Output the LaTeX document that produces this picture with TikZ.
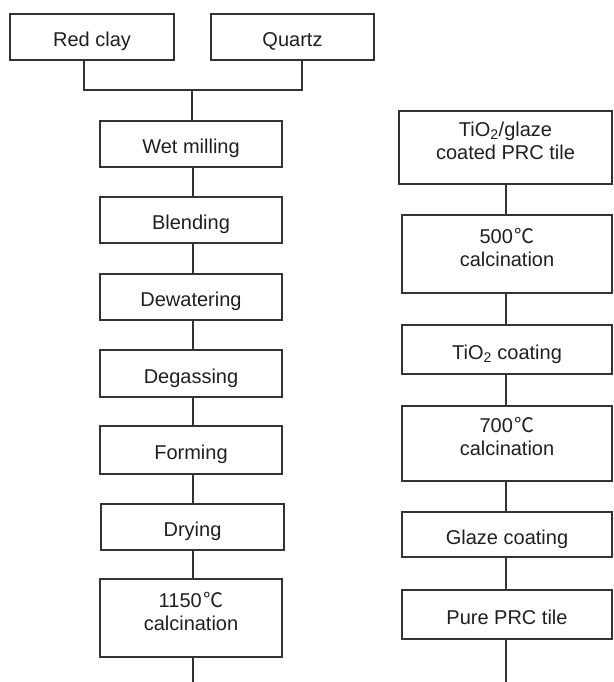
\documentclass[tikz,border=0pt]{standalone}
\usepackage{fontspec}
\setmainfont{Liberation Sans}
\newfontfamily\cjk{Noto Sans CJK SC}
\newcommand{\degC}{\hspace{1.5pt}{\cjk ℃}}
\newcommand{\lift}{\rule[-14pt]{0pt}{14pt}}
\begin{document}
\begin{tikzpicture}[x=1pt,y=-1pt,
  every node/.style={font=\fontsize{20}{23}\selectfont, text=black!88},
  procbox/.style={draw=black!80, line width=1.1pt, inner sep=0pt, align=center, minimum width=#1},
  procbox/.default=182pt,
  single/.style={text height=20pt, text depth=1pt},
  conn/.style={draw=black!80, line width=1.1pt}]
\useasboundingbox (0,0) rectangle (613,682);
% left column
\node[procbox=164pt, single, minimum height=46pt] (redclay) at (92,37) {Red clay};
\node[procbox=163pt, single, minimum height=46pt] (quartz) at (292.5,37) {Quartz};
\node[procbox, single, minimum height=46pt] (wet) at (191,144) {Wet milling};
\node[procbox, single, minimum height=46pt] (blend) at (191,220) {Blending};
\node[procbox, single, minimum height=46pt] (dewater) at (191,297) {Dewatering};
\node[procbox, single, minimum height=47pt] (degas) at (191,373.5) {Degassing};
\node[procbox, single, minimum height=48pt] (forming) at (191,450) {Forming};
\node[procbox=183pt, single, minimum height=46pt] (drying) at (192.5,527) {Drying};
\node[procbox, minimum height=78pt] (c1150) at (191,618) {1150\degC\\calcination\lift};
\coordinate (join) at (192,90);
\coordinate (lend) at (193,682);
\draw[conn] ([xshift=-8pt]redclay.south) |- (join);
\draw[conn] ([xshift=9.5pt]quartz.south) |- (join);
\draw[conn] (join) -- (join |- wet.north);
\draw[conn] (wet.south -| 193,0) -- (blend.north -| 193,0);
\draw[conn] (blend.south -| 193,0) -- (dewater.north -| 193,0);
\draw[conn] (dewater.south -| 193,0) -- (degas.north -| 193,0);
\draw[conn] (degas.south -| 193,0) -- (forming.north -| 193,0);
\draw[conn] (forming.south -| 193,0) -- (drying.north -| 193,0);
\draw[conn] (drying.south -| 193,0) -- (c1150.north -| 193,0);
\draw[conn] (c1150.south -| 193,0) -- (lend);
% right column
\node[procbox=213pt, minimum height=73pt] (tiog) at (505.5,147.5) {TiO\textsubscript{2}/glaze\\coated PRC tile\lift};
\node[procbox=210pt, minimum height=78pt] (c500) at (507,254) {500\degC\\calcination\lift};
\node[procbox=210pt, single, minimum height=49pt] (tioc) at (507,349.5) {TiO\textsubscript{2} coating};
\node[procbox=210pt, minimum height=75pt] (c700) at (507,443.5) {700\degC\\calcination\lift};
\node[procbox=210pt, single, minimum height=45pt] (glaze) at (507,534.5) {Glaze coating};
\node[procbox=210pt, single, minimum height=49pt] (pure) at (507,614.5) {Pure PRC tile};
\coordinate (rend) at (506,682);
\draw[conn] (tiog.south -| 506,0) -- (c500.north -| 506,0);
\draw[conn] (c500.south -| 506,0) -- (tioc.north -| 506,0);
\draw[conn] (tioc.south -| 506,0) -- (c700.north -| 506,0);
\draw[conn] (c700.south -| 506,0) -- (glaze.north -| 506,0);
\draw[conn] (glaze.south -| 506,0) -- (pure.north -| 506,0);
\draw[conn] (pure.south -| 506,0) -- (rend);
\end{tikzpicture}
\end{document}
